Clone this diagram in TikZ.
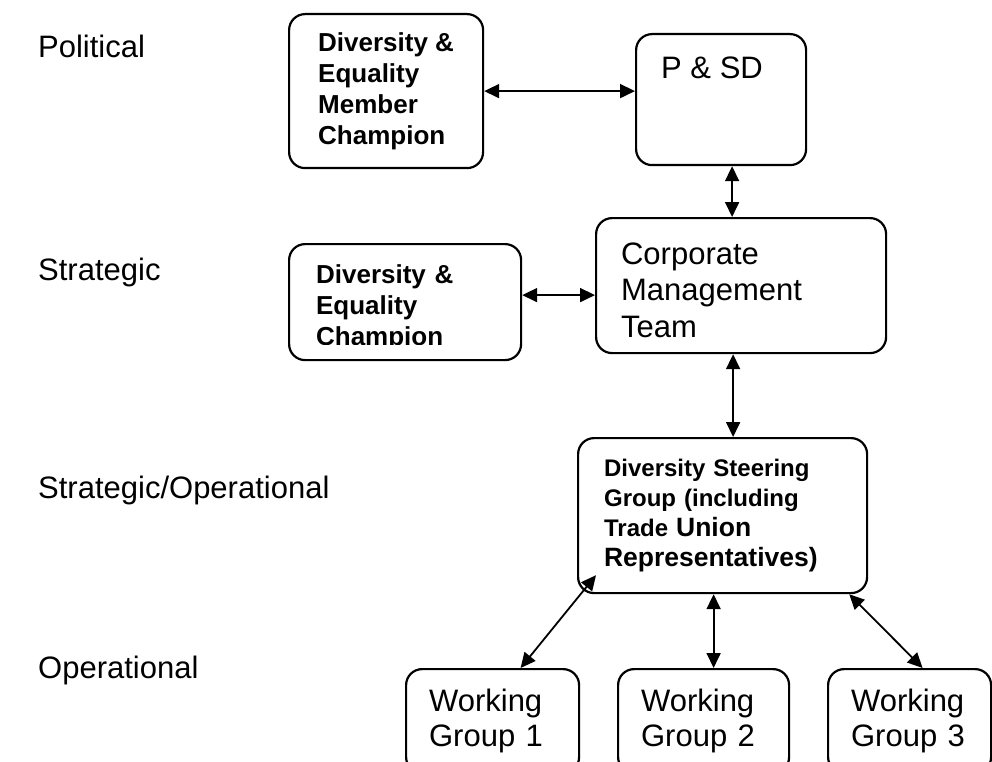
\documentclass[tikz,border=0pt]{standalone}
\usepackage{fontspec}
\setmainfont{Liberation Sans}
\usetikzlibrary{arrows.meta}

\tikzset{
  box/.style={draw, line width=2.2pt, rounded corners=16pt, inner sep=0pt, anchor=north west},
  boldtext/.style={font=\bfseries\fontsize{26}{31}\selectfont, align=left},
  plaintext/.style={font=\fontsize{31}{35.5}\selectfont, align=left},
  link/.style={line width=1.8pt, {Triangle[length=15pt,width=14pt]}-{Triangle[length=15pt,width=14pt]}},
  level/.style={anchor=west, inner sep=0pt, font=\fontsize{31}{35.5}\selectfont},
}

\begin{document}
\begin{tikzpicture}[x=1pt, y=-1pt]
\useasboundingbox (0,0) rectangle (992,762);
\clip (0,0) rectangle (992,762);

% levels on the left
\node[level] (pol) at (38,46) {Political};
\node[level] (strat) at (38,272) {Strategic};
\node[level] (stratop) at (38,490) {Strategic/Operational};
\node[level] (oper) at (38,670) {Operational};

% political
\node[box, boldtext, minimum width=194pt, minimum height=154pt] (memb) at (288,13) {Diversity \&\\Equality\\Member\\Champion};
\node[box, minimum width=170pt, minimum height=131pt,
      label={[anchor=north west, inner sep=0pt, xshift=26pt, yshift=-24pt, plaintext]north west:P \& SD}] (psd) at (635,33) {};

% strategic
\node[box, plaintext, font=\fontsize{31}{36.5}\selectfont, minimum width=290pt, minimum height=135pt, text width=240pt, inner xsep=25pt] (cmt) at (595,217) {\rule{0pt}{31pt}Corporate\\Management\\Team};
\node[box, minimum width=232pt, minimum height=116pt] (champ) at (288,243) {};
\begin{scope}
  \clip (champ.north west) rectangle ([yshift=17pt]champ.south east);
  \node[boldtext, text width=178pt, inner sep=0pt, yshift=-6pt] (champtxt) at (champ.center) {Diversity \&\\Equality\\Champion};
\end{scope}

% strategic/operational
\node[box, font=\bfseries\fontsize{24}{30}\selectfont, align=left, minimum width=289pt, minimum height=155pt, text width=237pt, inner xsep=26pt] (dsg) at (577,437)
  {Diversity Steering\\Group (including\\Trade {\fontsize{26.5}{30}\selectfont Union}\\{\fontsize{26.5}{30}\selectfont Representatives)}};

% operational
\node[box, plaintext, minimum width=173pt, minimum height=104pt, text width=127pt, inner xsep=23pt] (wg1) at (405,668) {Working\\Group 1};
\node[box, plaintext, minimum width=171pt, minimum height=104pt, text width=125pt, inner xsep=23pt] (wg2) at (617,668) {Working\\Group 2};
\node[box, plaintext, minimum width=163pt, minimum height=104pt, text width=117pt, inner xsep=23pt] (wg3) at (827,668) {Working\\Group 3};

% connectors
\coordinate (bc) at ([xshift=11pt]psd.south);
\coordinate (dc) at ([yshift=7pt]champ.east);
\coordinate (cd) at ([xshift=-8pt]cmt.south);
\coordinate (d1) at ([shift={(19pt,19pt)}]dsg.south west);
\coordinate (w1) at ([xshift=28pt]wg1.north);
\coordinate (w2) at ([xshift=10pt]wg2.north);
\coordinate (d3) at ([xshift=-19pt]dsg.south east);
\coordinate (w3) at ([xshift=13pt]wg3.north);

\draw[link] (memb.east) -- (memb.east -| psd.west);
\draw[link] (bc) -- (bc |- cmt.north);
\draw[link] (dc) -- (dc -| cmt.west);
\draw[link] (cd) -- (cd |- dsg.north);
\draw[link] (d1) -- (w1);
\draw[link] (w2 |- dsg.south) -- (w2);
\draw[link] (d3) -- (w3);
\end{tikzpicture}
\end{document}
